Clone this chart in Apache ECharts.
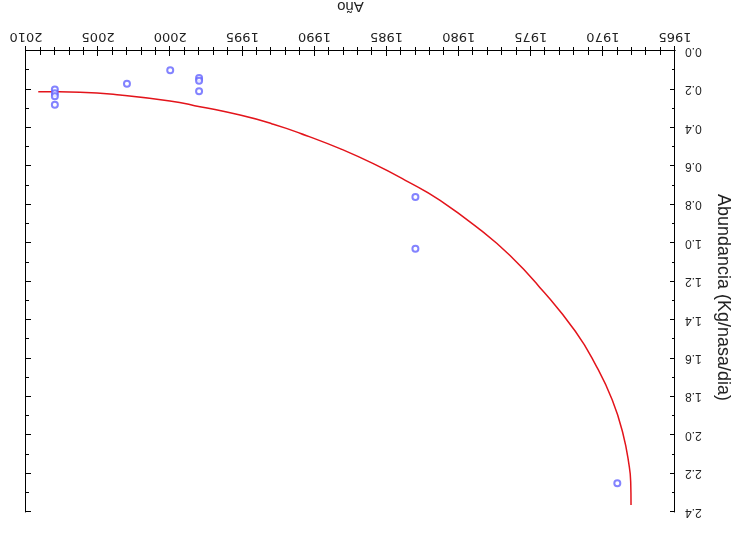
<!DOCTYPE html>
<html>
<head>
<meta charset="utf-8">
<script src="https://cdn.jsdelivr.net/npm/echarts@6/dist/echarts.min.js"></script>
<style>
html,body{margin:0;padding:0;background:#fff;overflow:hidden;}
#main{width:733px;height:540px;transform:rotate(180deg);transform-origin:50% 50%;}
</style>
</head>
<body>
<div id="main"></div>
<script>
// Observed points
const obsYears = [2008, 2008, 2008, 2008, 2003, 2000, 1998, 1998, 1998, 1983, 1983, 1969];
const obsValues = [0.20, 0.22, 0.235, 0.28, 0.17, 0.10, 0.14, 0.155, 0.21, 0.76, 1.03, 2.25];

// Fitted curve
const curveYears = [1968.05, 1968.07, 1968.17, 1968.62, 1969.35, 1970.43, 1971.9, 1974.36, 1976.44, 1978.52, 1981.29, 1983.60, 1985.92, 1988.23, 1990.54, 1992.85, 1995.16, 1997.94, 2000.02, 2003.48, 2006.26, 2009.15];
const curveValues = [2.364, 2.25, 2.164, 1.989, 1.817, 1.644, 1.460, 1.232, 1.065, 0.930, 0.778, 0.677, 0.586, 0.508, 0.441, 0.381, 0.333, 0.290, 0.260, 0.229, 0.215, 0.212];

const xTitle = 'Año';
const yTitle = 'Abundancia (Kg/nasa/dia)';

const chart = echarts.init(document.getElementById('main'), null, {renderer: 'canvas'});

const axisLineStyle = {show: true, lineStyle: {color: '#000', width: 1}};
const tickStyle = {show: true, inside: true, length: 5, lineStyle: {color: '#000'}};

chart.setOption({
  animation: false,
  backgroundColor: '#fff',
  grid: {left: 58, right: 26, top: 28, bottom: 51, containLabel: false, outerBoundsMode: 'none'},
  xAxis: [{
    type: 'value', min: 1965, max: 2010, interval: 5, position: 'bottom',
    axisLine: axisLineStyle, axisTick: tickStyle,
    minorTick: {show: true, splitNumber: 5, length: 4, lineStyle: {color: '#000'}},
    splitLine: {show: false},
    axisLabel: {color: '#222', fontFamily: 'DejaVu Sans', fontSize: 13, margin: 8,
      formatter: v => String(v)},
    name: xTitle, nameLocation: 'middle', nameGap: 37,
    nameTextStyle: {color: '#222', fontFamily: 'Liberation Sans', fontSize: 15}
  }, {
    type: 'value', min: 1965, max: 2010, interval: 5, position: 'top',
    axisLine: axisLineStyle, axisTick: tickStyle,
    minorTick: {show: true, splitNumber: 5, length: 4, lineStyle: {color: '#000'}},
    splitLine: {show: false}, axisLabel: {show: false}
  }],
  yAxis: [{
    type: 'value', min: 0, max: 2.4, interval: 0.2, position: 'left',
    axisLine: axisLineStyle, axisTick: tickStyle,
    minorTick: {show: true, splitNumber: 2, length: 3, lineStyle: {color: '#000'}},
    splitLine: {show: false},
    axisLabel: {color: '#222', fontFamily: 'Liberation Sans', fontSize: 12, margin: 10,
      formatter: v => v.toFixed(1)},
    name: yTitle, nameLocation: 'middle', nameGap: 39, nameRotate: 90,
    nameTextStyle: {color: '#222', fontFamily: 'Liberation Sans', fontSize: 18, padding: [0, 0, 0, 32]}
  }, {
    type: 'value', min: 0, max: 2.4, interval: 0.2, position: 'right',
    axisLine: axisLineStyle, axisTick: tickStyle,
    minorTick: {show: true, splitNumber: 2, length: 3, lineStyle: {color: '#000'}},
    splitLine: {show: false}, axisLabel: {show: false}
  }],
  series: [{
    type: 'line',
    data: curveYears.map((y, i) => [y, curveValues[i]]),
    showSymbol: false, symbol: 'none', smooth: 0.5,
    lineStyle: {color: '#e3141b', width: 1.5},
    z: 2
  }, {
    type: 'scatter',
    data: obsYears.map((y, i) => [y, obsValues[i]]),
    symbol: 'emptyCircle', symbolSize: 6,
    itemStyle: {color: '#6464ff', borderColor: '#6464ff', borderWidth: 1},
    z: 3
  }]
});
</script>
</body>
</html>
